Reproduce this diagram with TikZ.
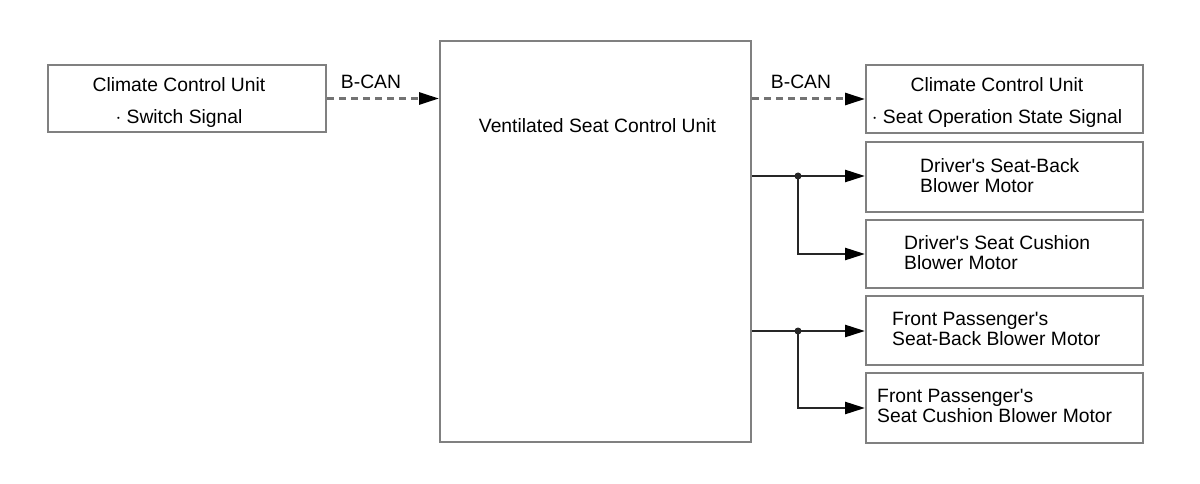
\documentclass[tikz,border=0pt]{standalone}
\usepackage{fontspec}
\setmainfont{Liberation Sans}
\usetikzlibrary{arrows.meta}

\begin{document}
\begin{tikzpicture}[x=1pt,y=-1pt]
      \tikzset { unit/.style = { shape=rectangle,draw=black!50,line width=2pt,inner sep=0pt } }
      \tikzset { txt/.style = { inner sep=0pt,font=\fontsize{19.3pt}{20pt}\selectfont } }
      \tikzset { can/.style = { -{Triangle[length=20pt,width=12pt,color=black]},draw=black!55,line width=3pt,dash pattern=on 7pt off 5pt } }
      \tikzset { edge/.style = { -{Triangle[length=20pt,width=12pt,color=black]},draw=black!85,line width=2.5pt } }

      \useasboundingbox (0,0) rectangle (1200,484);

      \node[unit,minimum width=278pt,minimum height=67pt] (cin) at (187,98.5) {};
      \node[unit,minimum width=311pt,minimum height=401pt] (vscu) at (595.5,241.5) {};
      \node[unit,minimum width=277pt,minimum height=68pt] (cout) at (1004.5,99) {};
      \node[unit,minimum width=277pt,minimum height=70pt] (dback) at (1004.5,177) {};
      \node[unit,minimum width=277pt,minimum height=68pt] (dcush) at (1004.5,254) {};
      \node[unit,minimum width=277pt,minimum height=69pt] (pback) at (1004.5,330.5) {};
      \node[unit,minimum width=277pt,minimum height=70pt] (pcush) at (1004.5,408) {};

      \node[txt,anchor=north,align=center,font=\fontsize{19.3pt}{32pt}\selectfont] (cinlbl) at (179,77) {Climate Control Unit\\$\cdot$ Switch Signal};
      \node[txt,anchor=north] (vsculbl) at (597.5,118) {Ventilated Seat Control Unit};
      \node[txt,anchor=north,align=center,font=\fontsize{19.3pt}{32pt}\selectfont] (coutlbl) at (997,77) {Climate Control Unit\\$\cdot$ Seat Operation State Signal};
      \node[txt,anchor=north west,align=left] (dbacklbl) at (920,158) {Driver\textquotesingle s Seat-Back\\Blower Motor};
      \node[txt,anchor=north west,align=left] (dcushlbl) at (904,235) {Driver\textquotesingle s Seat Cushion\\Blower Motor};
      \node[txt,anchor=north west,align=left] (pbacklbl) at (892,312) {Front Passenger\textquotesingle s\\Seat-Back Blower Motor};
      \node[txt,anchor=north west,align=left] (pcushlbl) at (877,389) {Front Passenger\textquotesingle s\\Seat Cushion Blower Motor};

      \node[txt] (can1) at (371,82) {B-CAN};
      \node[txt] (can2) at (801,82) {B-CAN};

      \coordinate (j1) at (798,176);
      \coordinate (j2) at (798,331);

      \draw[can] (cin.east) to (vscu.west |- cin.east);
      \draw[can] (vscu.east |- cout.west) to (cout.west);
      \draw[edge] (vscu.east |- j1) to (j1 -| dback.west);
      \draw[edge] (j1) |- (dcush.west);
      \draw[edge] (vscu.east |- j2) to (j2 -| pback.west);
      \draw[edge] (j2) |- (pcush.west);
      \fill[black!85] (j1) circle (3.5pt) (j2) circle (3.5pt);

    \end{tikzpicture}
\end{document}
